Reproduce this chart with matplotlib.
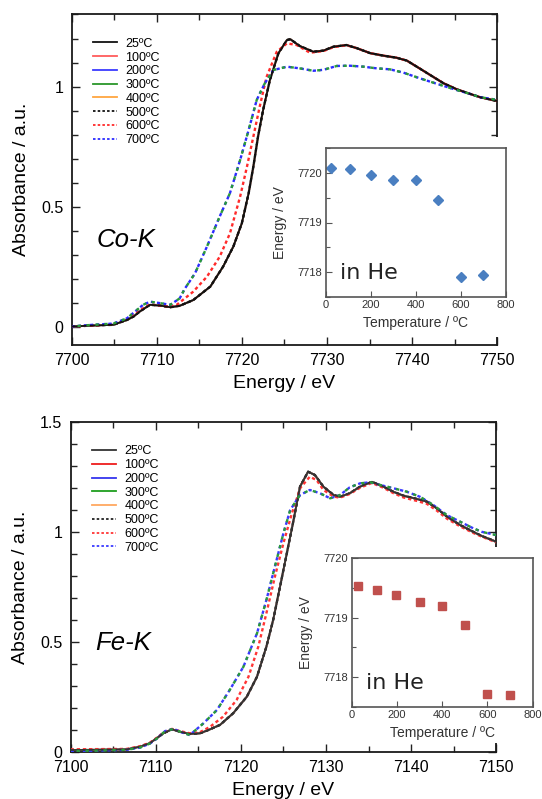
import matplotlib
matplotlib.use("Agg")
import matplotlib.pyplot as plt
from matplotlib.patches import Rectangle
from matplotlib.ticker import MultipleLocator

plt.rcParams['font.family'] = ['Liberation Sans', 'DejaVu Sans']

# ---- Co-K edge spectra ----
co_e_main = [7700, 7702.5, 7704.9, 7706.5, 7707.3, 7708.0, 7709.2, 7710.4, 7711.6, 7712.7, 7714.3,
             7716.3, 7717.8, 7719.0, 7720.0, 7720.8, 7721.35, 7721.9, 7722.5, 7723.3, 7724.3,
             7725.3, 7725.7, 7726.8, 7728.4, 7729.6, 7730.75, 7732.3, 7733.5, 7735.1, 7736.6,
             7738.2, 7739.4, 7740.55, 7742.1, 7743.7, 7745.25, 7746.8, 7748.0, 7750]
co_a_main = [0.003, 0.007, 0.01, 0.03, 0.045, 0.065, 0.093, 0.09, 0.083, 0.089, 0.113,
             0.169, 0.252, 0.335, 0.432, 0.557, 0.667, 0.792, 0.903, 1.028, 1.139,
             1.194, 1.197, 1.169, 1.145, 1.15, 1.166, 1.173, 1.16, 1.139, 1.129,
             1.12, 1.108, 1.083, 1.049, 1.014, 0.989, 0.97, 0.956, 0.94]

co_e_600 = [7700, 7702.5, 7704.9, 7706.5, 7708.0, 7709.2, 7710.4, 7711.6, 7712.35, 7714.3,
            7715.9, 7717.4, 7718.6, 7719.8, 7720.6, 7721.35, 7722.1, 7722.9, 7724.1, 7725.3,
            7726.45, 7728.0, 7729.6, 7730.75, 7732.3, 7733.5, 7735.1, 7736.6, 7738.2, 7739.4,
            7740.55, 7742.1, 7743.7, 7745.25, 7746.8, 7748.0, 7750]
co_a_600 = [0.003, 0.007, 0.012, 0.033, 0.07, 0.095, 0.09, 0.085, 0.093, 0.148,
            0.21, 0.293, 0.39, 0.543, 0.667, 0.792, 0.917, 1.04, 1.145, 1.18,
            1.173, 1.141, 1.148, 1.164, 1.172, 1.16, 1.139, 1.129, 1.12, 1.108,
            1.083, 1.049, 1.014, 0.989, 0.97, 0.956, 0.94]

co_e_700 = [7700, 7702.5, 7704.9, 7706.5, 7708.4, 7709.2, 7710.4, 7711.6, 7712.7, 7713.3,
            7714.5, 7715.9, 7717.4, 7718.6, 7719.8, 7720.8, 7721.75, 7722.7, 7723.7, 7725.3,
            7726.8, 7728.4, 7729.6, 7731.15, 7732.7, 7734.3, 7735.85, 7737.4, 7739.0, 7740.55,
            7742.1, 7743.7, 7745.25, 7746.8, 7748.0, 7750]
co_a_700 = [0.003, 0.01, 0.015, 0.037, 0.093, 0.106, 0.1, 0.093, 0.12, 0.16,
            0.224, 0.335, 0.46, 0.557, 0.695, 0.82, 0.945, 1.014, 1.069, 1.083,
            1.076, 1.066, 1.07, 1.086, 1.087, 1.083, 1.076, 1.072, 1.058, 1.039,
            1.021, 1.003, 0.986, 0.97, 0.956, 0.945]

# ---- Fe-K edge spectra ----
fe_e_main = [7100, 7103, 7106.6, 7108.15, 7109.3, 7110.1, 7110.9, 7111.9, 7112.85, 7114.0,
             7115.2, 7116.2, 7117.55, 7119.1, 7120.7, 7121.9, 7123.0, 7123.8, 7124.6, 7125.4,
             7126.2, 7126.95, 7127.9, 7128.7, 7129.7, 7130.9, 7131.65, 7132.8, 7134.0, 7135.4,
             7136.75, 7137.9, 7139.1, 7140.7, 7141.85, 7143.0, 7144.2, 7145.75, 7147.3, 7148.3, 7150]
fe_a_main = [0.009, 0.01, 0.012, 0.024, 0.04, 0.062, 0.085, 0.103, 0.092, 0.082,
             0.085, 0.1, 0.123, 0.176, 0.251, 0.342, 0.478, 0.6, 0.75, 0.902,
             1.054, 1.205, 1.273, 1.258, 1.205, 1.167, 1.159, 1.175, 1.205, 1.227,
             1.205, 1.182, 1.164, 1.149, 1.137, 1.107, 1.069, 1.031, 1.0, 0.981, 0.955]

fe_e_600 = [7100, 7103, 7106.6, 7108.15, 7109.3, 7110.1, 7110.9, 7111.9, 7112.85, 7114.0,
            7115.2, 7116.4, 7117.9, 7119.5, 7120.9, 7122.05, 7123.0, 7124.0, 7125.0, 7126.0,
            7127.0, 7128.1, 7128.9, 7129.7, 7130.9, 7131.65, 7132.8, 7134.0, 7135.4, 7136.75,
            7137.9, 7139.1, 7140.7, 7141.85, 7143.0, 7144.2, 7145.75, 7147.3, 7148.3, 7150]
fe_a_600 = [0.012, 0.013, 0.014, 0.026, 0.042, 0.064, 0.088, 0.105, 0.095, 0.085,
            0.09, 0.115, 0.16, 0.236, 0.342, 0.478, 0.63, 0.796, 0.948, 1.084,
            1.2, 1.25, 1.235, 1.19, 1.16, 1.155, 1.172, 1.2, 1.222, 1.2,
            1.176, 1.156, 1.14, 1.127, 1.097, 1.06, 1.025, 0.995, 0.978, 0.952]

fe_e_700 = [7100, 7103, 7106.6, 7108.15, 7109.3, 7110.1, 7111.1, 7112.1, 7113.0, 7114.0,
            7115.6, 7117.2, 7118.7, 7120.3, 7121.9, 7123.0, 7124.0, 7125.0, 7125.8, 7126.95,
            7128.1, 7129.3, 7130.5, 7131.65, 7132.8, 7134.0, 7135.2, 7136.35, 7137.9, 7139.5,
            7141.05, 7142.6, 7144.2, 7145.75, 7147.3, 7148.3, 7150]
fe_a_700 = [0.004, 0.006, 0.01, 0.02, 0.038, 0.06, 0.095, 0.105, 0.09, 0.077,
            0.13, 0.191, 0.282, 0.387, 0.539, 0.69, 0.842, 0.993, 1.099, 1.167,
            1.19, 1.175, 1.152, 1.167, 1.202, 1.22, 1.225, 1.213, 1.198, 1.182,
            1.159, 1.122, 1.076, 1.046, 1.016, 1.0, 0.985]

# ---- edge energy vs temperature (insets) ----
temps_co = [25, 110, 200, 300, 400, 500, 600, 700]
edge_co = [7720.09, 7720.07, 7719.95, 7719.86, 7719.86, 7719.46, 7717.91, 7717.94]
temps_fe = [25, 110, 197, 300, 400, 500, 600, 702]
edge_fe = [7719.53, 7719.47, 7719.38, 7719.26, 7719.2, 7718.87, 7717.71, 7717.70]

labels = ['25ºC', '100ºC', '200ºC', '300ºC', '400ºC', '500ºC', '600ºC', '700ºC']
co_colors = ['#111111', '#ff5c5c', '#3b3bff', '#2a962a', '#ffa640', '#111111', '#ff2a2a', '#2b2bff']
fe_colors = ['#333333', '#ee1c1c', '#3535ee', '#1f9e1f', '#ffa860', '#222222', '#ff3535', '#3a3aff']

W, H = 542, 799
fig = plt.figure(figsize=(W / 100, H / 100), dpi=100)


def px_rect(l, t, r, b):
    return [l / W, 1 - b / H, (r - l) / W, (b - t) / H]


def draw_main(ax, e_main, a_main, e_600, a_600, e_700, a_700, colors):
    dash = (0, (1.4, 1.2))
    curves = [(e_main, a_main)] * 6 + [(e_600, a_600), (e_700, a_700)]
    zs = [3.5, 2, 2.2, 2.1, 2.3, 3, 3, 3]
    for i in [0, 1, 2, 3, 4]:
        e, a = curves[i]
        ax.plot(e, a, color=colors[i], lw=1.3, label=labels[i], zorder=zs[i])
    for i in [5, 6, 7]:
        e, a = curves[i]
        ax.plot(e, a, color=colors[i], lw=1.7, ls=dash, label=labels[i], zorder=zs[i])
    # greenish overlay on the 700 curve as in the original rendering
    ax.plot(e_700, a_700, color='#2a9a3a', lw=1.7, ls=(1.3, (1.4, 2.4)), zorder=4)
    ax.tick_params(which='both', direction='in', top=True, right=True,
                   labelsize=11.5, pad=6, width=1.0, color='#222222')
    ax.tick_params(which='major', length=6)
    ax.tick_params(which='minor', length=4)
    ax.xaxis.set_major_locator(MultipleLocator(10))
    ax.xaxis.set_minor_locator(MultipleLocator(5))
    ax.yaxis.set_major_locator(MultipleLocator(0.5))
    ax.yaxis.set_minor_locator(MultipleLocator(0.1))
    ax.yaxis.set_major_formatter(plt.FuncFormatter(lambda v, p: '%g' % v))
    for s in ax.spines.values():
        s.set_linewidth(1.3)
        s.set_color('#1a1a1a')
    ax.set_xlabel('Energy / eV', fontsize=14)
    ax.set_ylabel('Absorbance / a.u.', fontsize=14)
    ax.xaxis.set_label_coords(0.5, -0.09)
    ax.yaxis.set_label_coords(-0.098, 0.5)
    leg = ax.legend(loc='upper left', bbox_to_anchor=(0.05, 0.928), frameon=False,
                    fontsize=9, handlelength=1.9, handletextpad=0.7, labelspacing=0.14,
                    borderpad=0, borderaxespad=0)
    for h in leg.get_lines():
        h.set_linewidth(1.3)


def draw_inset(ax, t, e, marker, color, ms, ylim):
    ax.plot(t, e, ls='none', marker=marker, color=color, ms=ms)
    ax.set_xlim(0, 800)
    ax.set_ylim(*ylim)
    ax.xaxis.set_major_locator(MultipleLocator(200))
    ax.yaxis.set_major_locator(MultipleLocator(1))
    ax.yaxis.set_minor_locator(MultipleLocator(0.5))
    ax.tick_params(which='both', direction='in', labelsize=8, pad=2.5,
                   color='#555555', labelcolor='#333333', width=0.8)
    ax.tick_params(which='major', length=4)
    ax.tick_params(which='minor', length=3)
    for s in ax.spines.values():
        s.set_linewidth(1.2)
        s.set_color('#555555')
    ax.set_xlabel('Temperature / ºC', fontsize=10, color='#333333')
    ax.set_ylabel('Energy / eV', fontsize=10, color='#333333')
    ax.xaxis.set_label_coords(0.5, -0.125)
    ax.yaxis.set_label_coords(-0.215, 0.5)
    ax.text(0.08, 0.16, 'in He', transform=ax.transAxes, fontsize=16,
            family='DejaVu Sans', va='center', ha='left', color='#222222')


# top panel: Co-K
ax1 = fig.add_axes(px_rect(71.6, 14, 497.2, 345))
draw_main(ax1, co_e_main, co_a_main, co_e_600, co_a_600, co_e_700, co_a_700, co_colors)
ax1.set_xlim(7700, 7750)
ax1.set_ylim(-0.074, 1.302)
ax1.text(0.059, 0.317, 'Co-K', transform=ax1.transAxes, fontsize=18.5,
         style='italic', va='center', ha='left')

# bottom panel: Fe-K
ax2 = fig.add_axes(px_rect(70.6, 421.7, 496.2, 752))
draw_main(ax2, fe_e_main, fe_a_main, fe_e_600, fe_a_600, fe_e_700, fe_a_700, fe_colors)
ax2.set_xlim(7100, 7150)
ax2.set_ylim(0, 1.5)
ax2.text(0.058, 0.33, 'Fe-K', transform=ax2.transAxes, fontsize=18.5,
         style='italic', va='center', ha='left')

# white backing behind the insets
fig.add_artist(Rectangle((268 / W, 1 - 337 / H), (W - 268) / W, 200 / H,
                         transform=fig.transFigure, facecolor='white',
                         edgecolor='none', zorder=1))
fig.add_artist(Rectangle((300 / W, 1 - 743 / H), (W - 300) / W, 196 / H,
                         transform=fig.transFigure, facecolor='white',
                         edgecolor='none', zorder=1))

ins1 = fig.add_axes(px_rect(325.7, 148, 505.7, 297), zorder=3)
draw_inset(ins1, temps_co, edge_co, 'D', '#4a7fc1', 5, (7717.5, 7720.5))

ins2 = fig.add_axes(px_rect(352, 558, 532.5, 707), zorder=3)
draw_inset(ins2, temps_fe, edge_fe, 's', '#c0504d', 6, (7717.5, 7720))

fig.savefig('out.png', dpi=100)
